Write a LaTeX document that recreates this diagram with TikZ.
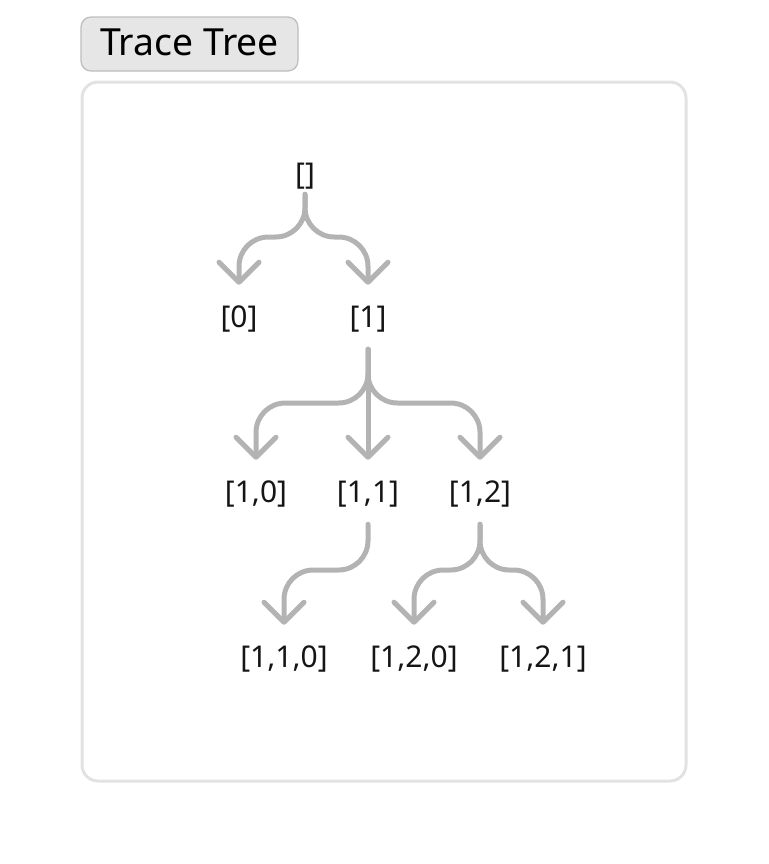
\documentclass[tikz,border=0pt]{standalone}
\usepackage{fontspec}
\setmainfont{Noto Sans}
\usetikzlibrary{arrows.meta}
\definecolor{edgegray}{HTML}{B3B3B3}
\definecolor{textdark}{HTML}{151515}
\definecolor{btnfill}{HTML}{E6E6E6}
\definecolor{btnline}{HTML}{BDBDBD}
\definecolor{panelline}{HTML}{E2E2E2}
\begin{document}
\begin{tikzpicture}[x=0.75pt, y=-0.75pt,
    lbl/.style={anchor=base, inner sep=0pt, text=textdark,
      font=\fontsize{22.5pt}{27pt}\selectfont, text height=31.5pt, text depth=16.5pt},
    rootlbl/.style={lbl, text depth=7.5pt},
    edge/.style={draw=edgegray, line width=3.75pt, line cap=round, rounded corners=22pt,
      -{Straight Barb[length=15pt, width=30pt, round]}},
    btn/.style={draw=btnline, fill=btnfill, line width=0.9pt, rounded corners=7.5pt,
      minimum width=162.75pt, minimum height=40.5pt, inner sep=0pt, text=black,
      font=\fontsize{28pt}{32pt}\selectfont, text height=20pt, text depth=3.5pt}]
  \useasboundingbox (0,0) rectangle (768,864);
  % button and panel
  \node[btn] (trace) at (189.5,44) {Trace Tree};
  \draw[panelline, line width=2.25pt, rounded corners=12pt] (82,82) rectangle (686,781);
  % fork levels
  \coordinate (f1) at (0,237);
  \coordinate (f2) at (0,403);
  \coordinate (f3) at (0,570);
  % labels
  \node[rootlbl] (r) at (305,184) {[]};
  \node[lbl] (c0) at (239,327) {[0]};
  \node[lbl] (c1) at (368,327) {[1]};
  \node[lbl] (c10) at (256,502) {[1,0]};
  \node[lbl] (c11) at (368,502) {[1,1]};
  \node[lbl] (c12) at (480,502) {[1,2]};
  \node[lbl] (c110) at (284,667) {[1,1,0]};
  \node[lbl] (c120) at (414,667) {[1,2,0]};
  \node[lbl] (c121) at (543,667) {[1,2,1]};
  % edges
  \draw[edge] (r.south) |- (f1 -| c0.north) -- (c0.north);
  \draw[edge] (r.south) |- (f1 -| c1.north) -- (c1.north);
  \draw[edge] (c1.south) |- (f2 -| c10.north) -- (c10.north);
  \draw[edge] (c1.south) -- (c11.north);
  \draw[edge] (c1.south) |- (f2 -| c12.north) -- (c12.north);
  \draw[edge] (c11.south) |- (f3 -| c110.north) -- (c110.north);
  \draw[edge] (c12.south) |- (f3 -| c120.north) -- (c120.north);
  \draw[edge] (c12.south) |- (f3 -| c121.north) -- (c121.north);
\end{tikzpicture}
\end{document}
